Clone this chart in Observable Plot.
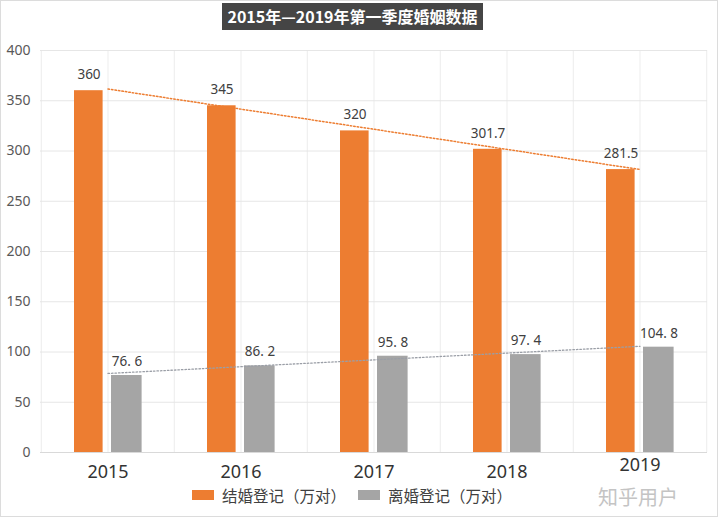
<!DOCTYPE html>
<html><head><meta charset="utf-8">
<script src="https://cdn.jsdelivr.net/npm/d3@7"></script>
<script src="https://cdn.jsdelivr.net/npm/@observablehq/plot@0.6"></script>
<style>
body{margin:0;background:#fff;}
#wrap{position:relative;width:720px;height:519px;overflow:hidden;font-family:"Noto Sans CJK SC","Noto Sans",sans-serif;}
#chart{position:absolute;left:0;top:0;}
#border{position:absolute;left:0;top:0;width:716px;height:515px;border:1px solid #dcdcdc;pointer-events:none;}
#title{position:absolute;left:222px;top:3px;width:261px;height:27px;background:#454545;color:#fff;font-weight:bold;font-size:16px;line-height:27px;text-align:center;white-space:nowrap;}
#legend{position:absolute;left:192px;top:484px;display:flex;align-items:center;font-size:15.5px;color:#404040;white-space:nowrap;}
.sw{display:inline-block;width:22px;height:10px;margin-right:8px;}
#wm{position:absolute;left:598px;top:482px;font-size:20px;color:#c4c4c4;white-space:nowrap;}
</style></head>
<body>
<div id="wrap">
  <div id="chart"></div>
  <div id="title"></div>
  <div id="legend"></div>
  <div id="wm">知乎用户</div>
  <div id="border"></div>
</div>
<script>
const titleText = "2015年—2019年第一季度婚姻数据";
const years = ["2015", "2016", "2017", "2018", "2019"];
const marriage = [360, 345, 320, 301.7, 281.5];
const divorce = [76.6, 86.2, 95.8, 97.4, 104.8];
const yTicks = [0, 50, 100, 150, 200, 250, 300, 350, 400];
const seriesNames = ["结婚登记（万对）", "离婚登记（万对）"];
const colors = ["#ED7D31", "#A5A5A5"];

// least-squares linear trend over category index
function trend(vals) {
  const xs = d3.range(vals.length);
  const mx = d3.mean(xs), my = d3.mean(vals);
  const b = d3.sum(xs, (x, i) => (x - mx) * (vals[i] - my)) / d3.sum(xs, x => (x - mx) ** 2);
  const a = my - b * mx;
  return xs.map(x => a + b * x);
}
const mT = trend(marriage), dT = trend(divorce);
const rows = years.map((y, i) => ({year: y, marriage: marriage[i], divorce: divorce[i], mTrend: mT[i], dTrend: dT[i]}));

const W = 720, H = 519, ml = 40, mr = 13, mt = 50, mb = 67;
const bw = (W - ml - mr) / years.length;

document.getElementById("title").textContent = titleText;
const leg = document.getElementById("legend");
seriesNames.forEach((n, i) => {
  const it = document.createElement("span");
  it.style.display = "inline-flex"; it.style.alignItems = "center"; it.style.marginRight = i === 0 ? "12px" : "0";
  it.innerHTML = `<span class="sw" style="background:${colors[i]}"></span><span>${n}</span>`;
  leg.appendChild(it);
});

const gridColor = "#e6e6e6";
const lastYear = years[years.length - 1];
const plot = Plot.plot({
  width: W, height: H,
  marginLeft: ml, marginRight: mr, marginTop: mt, marginBottom: mb,
  x: {type: "band", domain: years, padding: 0, label: null},
  y: {domain: [0, 400], label: null},
  style: {fontFamily: "'Noto Sans', sans-serif", background: "transparent", overflow: "visible"},
  marks: [
    Plot.ruleY(yTicks, {stroke: gridColor}),
    Plot.ruleX(years, {x: d => d, dx: -bw / 2, y1: 0, y2: 400, stroke: gridColor, strokeOpacity: 0.7}),
    Plot.ruleX(years, {x: d => d, y1: 0, y2: 400, stroke: gridColor, strokeOpacity: 0.7}),
    Plot.ruleX([lastYear], {x: d => d, dx: bw / 2, y1: 0, y2: 400, stroke: gridColor, strokeOpacity: 0.7}),
    Plot.ruleY([0], {stroke: "#d9d9d9"}),
    Plot.barY(rows, {x: "year", y: "marriage", fill: colors[0], insetLeft: 33, insetRight: bw - 62}),
    Plot.barY(rows, {x: "year", y: "divorce", fill: colors[1], insetLeft: 70, insetRight: bw - 101}),
    Plot.line(rows, {x: "year", y: "mTrend", stroke: colors[0], strokeWidth: 1.5, strokeDasharray: "1.5,2"}),
    Plot.line(rows, {x: "year", y: "dTrend", stroke: "#9a9ea6", strokeWidth: 1.3, strokeDasharray: "1.5,2"}),
    Plot.text(rows, {x: "year", y: "marriage", text: d => String(d.marriage), dx: -19, dy: -16, fontSize: 13.5, fill: "#404040"}),
    Plot.text(rows, {x: "year", y: "divorce", text: d => String(d.divorce).replace(".", ". "), dx: 19, dy: -14, fontSize: 13.5, fill: "#404040"}),
    Plot.axisY({ticks: yTicks, tickSize: 0, tickPadding: 10, fontSize: 14, color: "#595959", label: null}),
    Plot.axisX({ticks: years.slice(0, -1), tickSize: 0, tickPadding: 13, fontSize: 18, color: "#333", label: null}),
    Plot.axisX({ticks: [lastYear], tickSize: 0, tickPadding: 6, fontSize: 18, color: "#333", label: null})
  ]
});
document.getElementById("chart").appendChild(plot);
</script>
</body></html>
